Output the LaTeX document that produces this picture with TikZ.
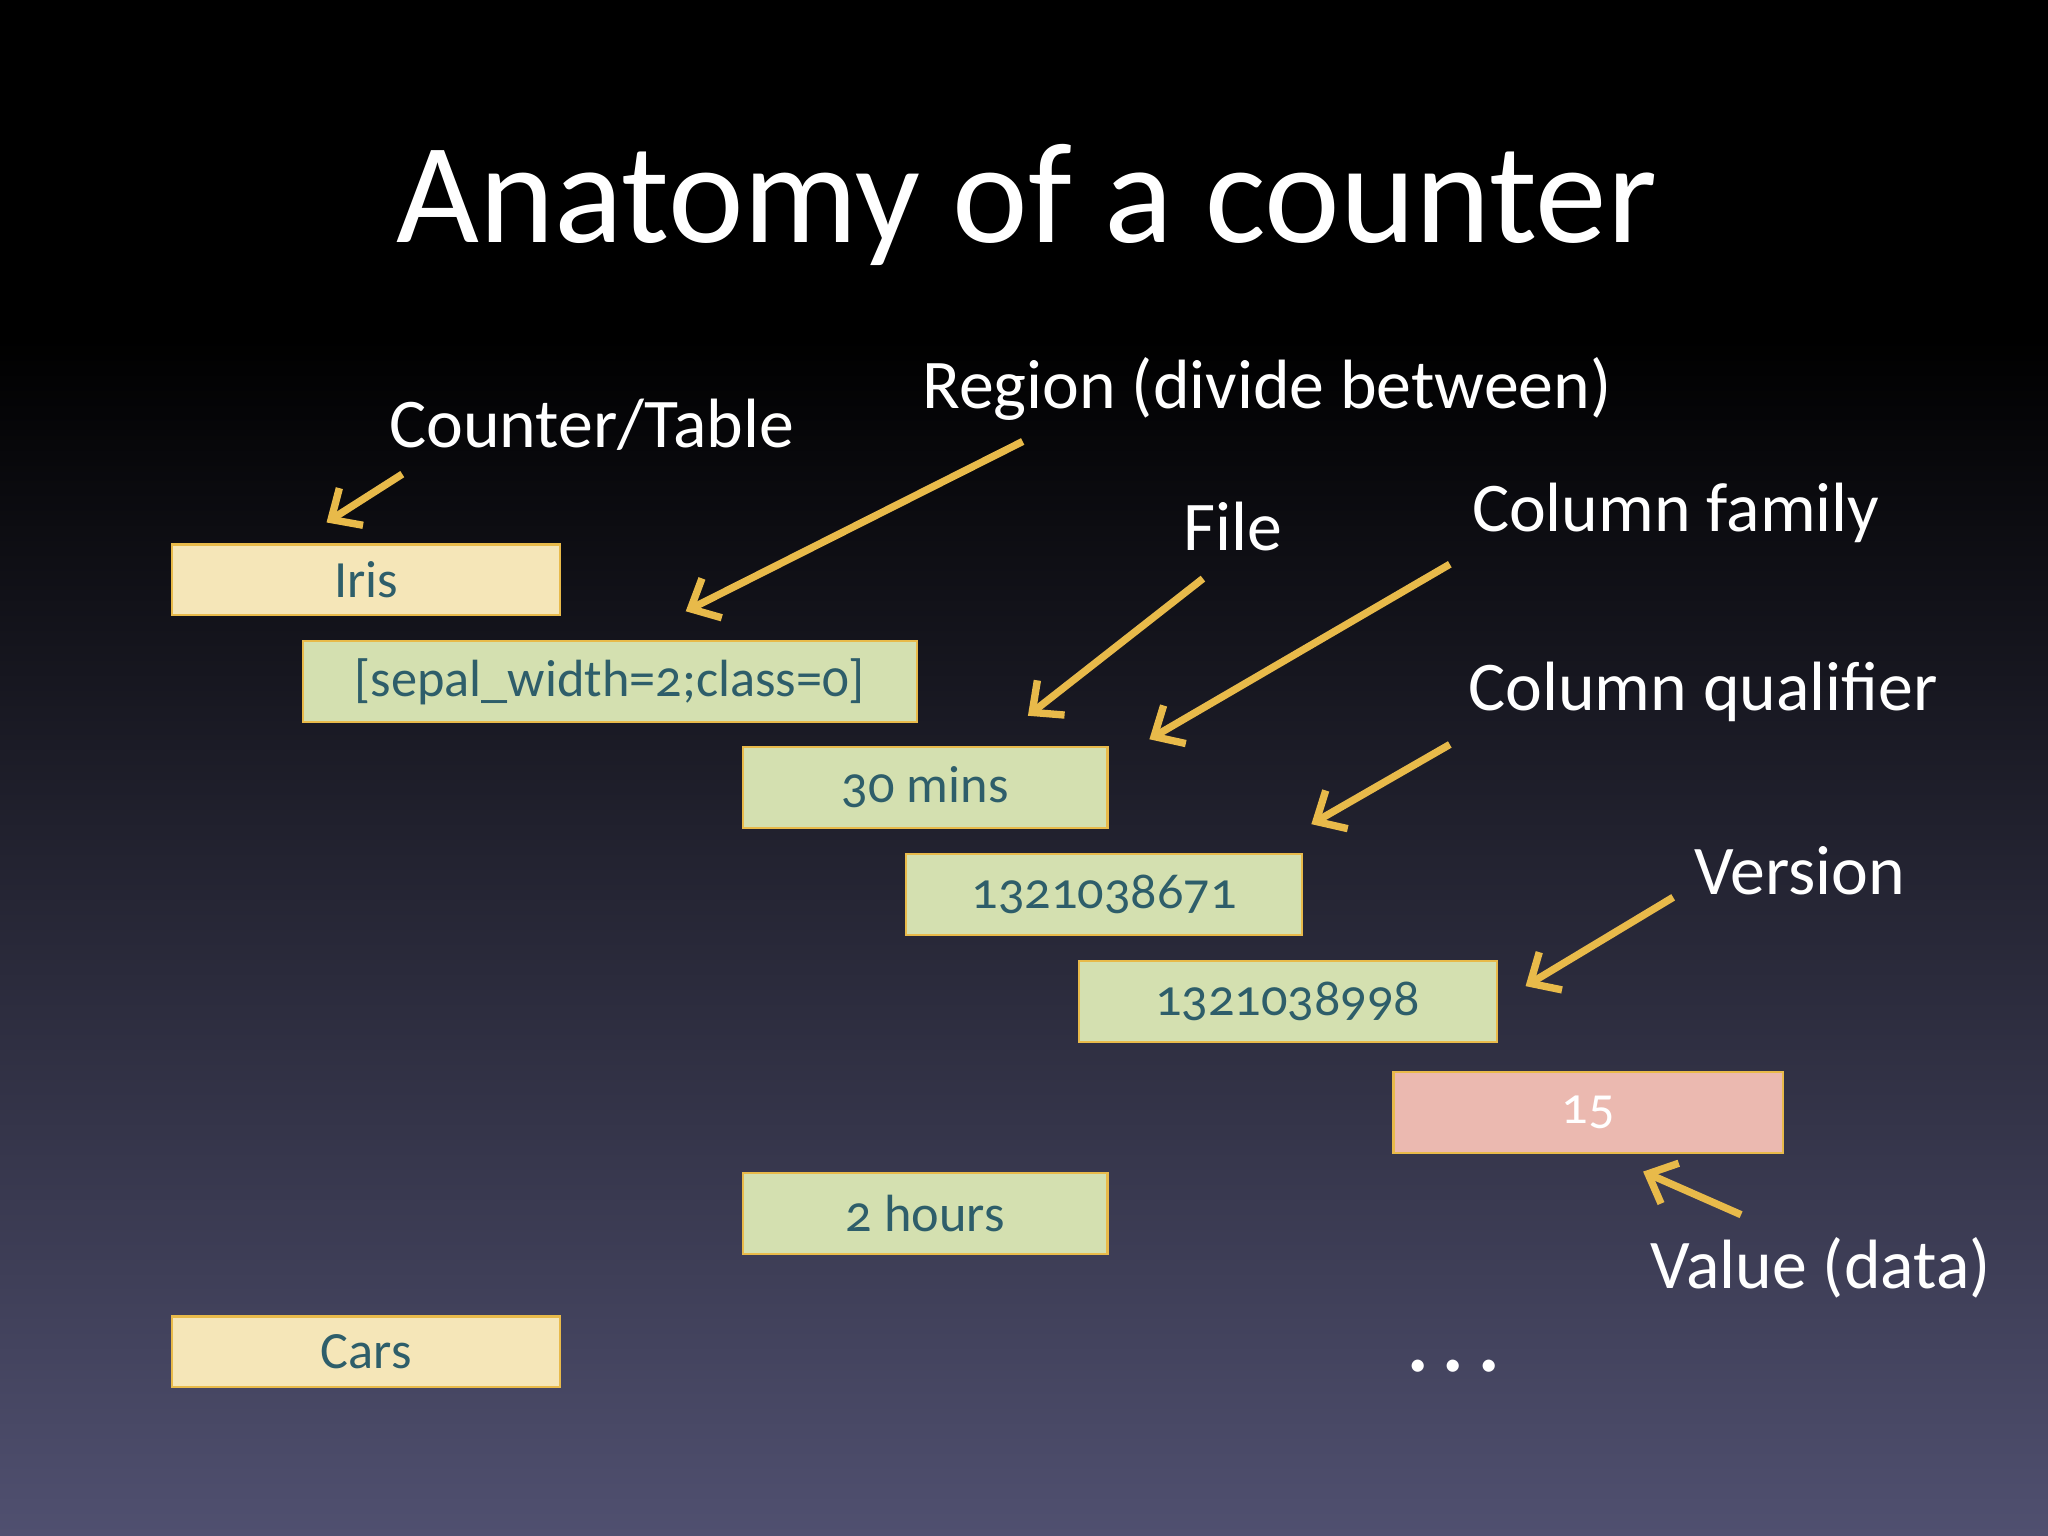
\documentclass[tikz,border=0pt]{standalone}
\usepackage{fontspec}
\setmainfont{Carlito}[Numbers=OldStyle]
\usetikzlibrary{arrows.meta}
\definecolor{ylw}{RGB}{232,186,74}
\definecolor{cream}{RGB}{245,230,184}
\definecolor{grn}{RGB}{212,224,176}
\definecolor{pnk}{RGB}{235,185,176}
\definecolor{teal}{RGB}{46,94,106}
\definecolor{bgb}{RGB}{80,80,112}
\begin{document}
\begin{tikzpicture}[x=0.05cm,y=-0.05cm,
  box/.style={draw=ylw,line width=2.5pt,inner sep=0pt,anchor=north west,text=teal,font=\fontsize{57}{66}\selectfont},
  lbl/.style={text=white,font=\fontsize{76}{88}\selectfont,inner sep=0pt},
  arr/.style={draw=ylw,line width=8pt,-{Straight Barb[length=26pt,width=48pt,line width=8pt]}}]
\useasboundingbox (0,0) rectangle (1568,1176);
\fill[black] (0,0) rectangle (1568,260);
\shade[top color=black,bottom color=bgb] (0,259) rectangle (1568,1176);
\node[text=white,font=\fontsize{156}{170}\selectfont,inner sep=0pt] (title) at (786,157) {Anatomy of a counter};
\node[box,fill=cream,minimum width=297*0.05cm,minimum height=54*0.05cm] (iris) at (131,416) {Iris};
\node[box,fill=grn,minimum width=470*0.05cm,minimum height=62*0.05cm] (sep) at (231,490) {[sepal\_width=2;class=0]};
\node[box,fill=grn,minimum width=279*0.05cm,minimum height=62*0.05cm] (m30) at (568,571) {30 mins};
\node[box,fill=grn,minimum width=303*0.05cm,minimum height=62*0.05cm] (q) at (693,653) {1321038671};
\node[box,fill=grn,minimum width=320*0.05cm,minimum height=62*0.05cm] (v) at (825,735) {1321038998};
\node[box,fill=pnk,text=white,minimum width=298*0.05cm,minimum height=62*0.05cm] (val) at (1066,820) {15};
\node[box,fill=grn,minimum width=279*0.05cm,minimum height=62*0.05cm] (h2) at (568,897) {2 hours};
\node[box,fill=cream,minimum width=297*0.05cm,minimum height=54*0.05cm] (cars) at (131,1007) {Cars};
\node[lbl,font=\fontsize{110}{120}\selectfont] (dots) at (1113,1046) {.\hspace{0.1em}.\hspace{0.1em}.};
\node[lbl] (lt) at (453,325) {Counter/Table};
\node[lbl] (lr) at (970,298) {Region (divide between)};
\node[lbl] (lf) at (944,403) {File};
\node[lbl] (lcf) at (1283,393) {Column family};
\node[lbl] (lcq) at (1304,530) {Column qualifier};
\node[lbl] (lv) at (1378,667) {Version};
\node[lbl] (lval) at (1394,971) {Value (data)};
\coordinate (a1s) at (308,363); \coordinate (a1e) at (250,400);
\coordinate (a2s) at (783,338); \coordinate (a2e) at (525,468);
\coordinate (a3s) at (921,443); \coordinate (a3e) at (787,548);
\coordinate (a4s) at (1110,432); \coordinate (a4e) at (880,566);
\coordinate (a5s) at (1110,570); \coordinate (a5e) at (1004,631);
\coordinate (a6s) at (1281,687); \coordinate (a6e) at (1168,755);
\coordinate (a7s) at (1333,930); \coordinate (a7e) at (1258,897);
\foreach \i in {1,...,7} \draw[arr] (a\i s) -- (a\i e);
\end{tikzpicture}
\end{document}
